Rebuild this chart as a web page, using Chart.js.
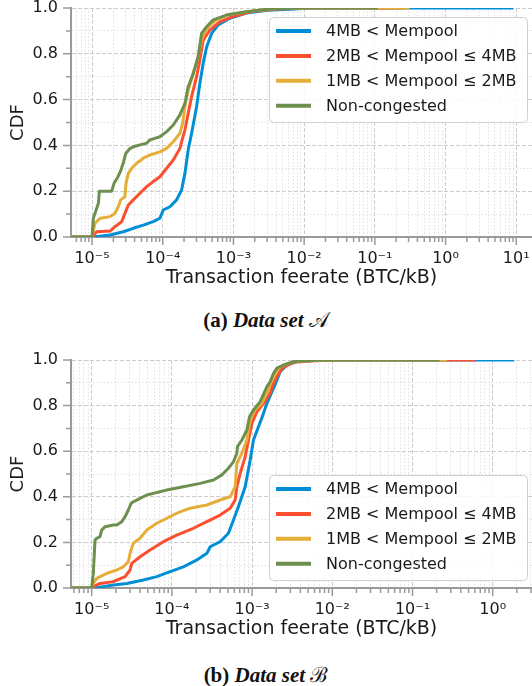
<!DOCTYPE html>
<html><head><meta charset="utf-8">
<script src="https://cdn.jsdelivr.net/npm/chart.js@4.4.0/dist/chart.umd.min.js"></script>
<style>
html,body{margin:0;padding:0;background:#fff;width:532px;height:686px;overflow:hidden;position:relative}
canvas{position:absolute;left:0}
.cap{position:absolute;left:0;width:532px;text-align:center;font-family:"Liberation Serif","DejaVu Serif",serif;font-weight:bold;font-size:21px;color:#111;line-height:26px}
.cap i{font-style:italic}
.cap span{font-weight:normal;font-style:normal}
</style></head><body>
<canvas id="cA" width="532" height="300" style="top:0px;width:532px;height:300px"></canvas>
<div class="cap" style="top:307px">(a) <i>Data set</i> <span>𝒜</span></div>
<canvas id="cB" width="532" height="311" style="top:340px;width:532px;height:311px"></canvas>
<div class="cap" style="top:662px">(b) <i>Data set</i> <span>ℬ</span></div>
<script>
// ---------- data ----------
const seriesNames = ['4MB < Mempool', '2MB < Mempool \u2264 4MB', '1MB < Mempool \u2264 2MB', 'Non-congested'];
const seriesColors = ['#008fd5', '#fc4f30', '#e5ae38', '#6d904f'];
const xTitle = 'Transaction feerate (BTC/kB)';
const yTitle = 'CDF';
const xRangeA = [5.04e-6, 16.7];
const xRangeB = [5.52e-6, 3.09];

// Data set A
const aBlueX = [4e-6, 1.043e-5, 1.8e-5, 2.77e-5, 3.83e-5, 5.31e-5, 7.34e-5, 9.12e-5, 1.017e-4, 1.264e-4, 1.57e-4, 1.85e-4, 2.06e-4, 2.29e-4, 2.56e-4, 3.01e-4, 3.35e-4, 3.73e-4, 4.17e-4, 4.91e-4, 6.08e-4, 8.9e-4, 1.53e-3, 3e-3, 6.26e-3, 1.2e-2, 9.1];
const aBlueY = [0, 0, 0.009, 0.023, 0.038, 0.052, 0.067, 0.082, 0.118, 0.132, 0.162, 0.205, 0.278, 0.38, 0.453, 0.569, 0.671, 0.758, 0.83, 0.889, 0.926, 0.955, 0.978, 0.99, 0.995, 1, 1];
const aRedX = [4e-6, 1.0e-5, 1.165e-5, 1.8e-5, 2.11e-5, 2.63e-5, 2.92e-5, 3.26e-5, 3.83e-5, 4.76e-5, 5.93e-5, 7.34e-5, 9.12e-5, 1.135e-4, 1.41e-4, 1.75e-4, 1.88e-4, 2.06e-4, 2.29e-4, 2.56e-4, 3.01e-4, 3.35e-4, 3.73e-4, 4.64e-4, 6.43e-4, 9.9e-4, 1.8e-3, 4e-3, 1e-2, 0.25];
const aRedY = [0, 0, 0.023, 0.026, 0.045, 0.067, 0.103, 0.14, 0.162, 0.191, 0.22, 0.242, 0.263, 0.30, 0.336, 0.387, 0.424, 0.467, 0.54, 0.613, 0.70, 0.773, 0.86, 0.904, 0.94, 0.963, 0.985, 0.996, 1, 1];
const aYellowX = [4e-6, 1.0e-5, 1.1e-5, 1.3e-5, 1.8e-5, 2.11e-5, 2.35e-5, 2.54e-5, 2.92e-5, 3.02e-5, 3.26e-5, 3.64e-5, 4.28e-5, 5.31e-5, 6.59e-5, 9.12e-5, 1.135e-4, 1.41e-4, 1.75e-4, 1.91e-4, 2.06e-4, 2.29e-4, 2.7e-4, 3.17e-4, 3.54e-4, 3.94e-4, 4.64e-4, 5.77e-4, 8.0e-4, 1.53e-3, 3.27e-3, 1e-2, 0.31];
const aYellowY = [0, 0, 0.06, 0.082, 0.089, 0.103, 0.132, 0.162, 0.176, 0.234, 0.278, 0.30, 0.322, 0.344, 0.358, 0.372, 0.387, 0.416, 0.453, 0.496, 0.57, 0.642, 0.714, 0.788, 0.86, 0.897, 0.926, 0.948, 0.969, 0.984, 0.996, 1, 1];
const aGreenX = [4e-6, 1.0e-5, 1.043e-5, 1.1e-5, 1.23e-5, 1.27e-5, 1.9e-5, 2.05e-5, 2.3e-5, 2.55e-5, 2.8e-5, 3.0e-5, 3.4e-5, 3.83e-5, 5.93e-5, 6.59e-5, 9.12e-5, 1.135e-4, 1.41e-4, 1.75e-4, 2.06e-4, 2.29e-4, 2.7e-4, 3.17e-4, 3.54e-4, 4.17e-4, 5.17e-4, 8.0e-4, 1.53e-3, 3.27e-3, 1e-2, 0.11];
const aGreenY = [0, 0, 0.082, 0.103, 0.147, 0.2, 0.2, 0.235, 0.26, 0.29, 0.33, 0.365, 0.385, 0.394, 0.41, 0.424, 0.438, 0.46, 0.489, 0.533, 0.584, 0.656, 0.714, 0.788, 0.889, 0.918, 0.948, 0.969, 0.984, 0.996, 1, 1];

// Data set B
const bBlueX = [4e-6, 1.1e-5, 1.86e-5, 2.74e-5, 4.41e-5, 6.48e-5, 9.5e-5, 1.39e-4, 2.05e-4, 2.73e-4, 3.0e-4, 4.0e-4, 5.07e-4, 5.86e-4, 6.76e-4, 8.2e-4, 9.47e-4, 1.04e-3, 1.2e-3, 1.32e-3, 1.53e-3, 1.77e-3, 2.04e-3, 2.24e-3, 2.72e-3, 3.6e-3, 6e-3, 1.5e-2, 1.86];
const bBlueY = [0, 0, 0.013, 0.02, 0.035, 0.05, 0.072, 0.093, 0.123, 0.152, 0.181, 0.203, 0.24, 0.298, 0.357, 0.444, 0.561, 0.649, 0.707, 0.745, 0.81, 0.861, 0.912, 0.949, 0.978, 0.993, 0.998, 1, 1];
const bRedX = [4e-6, 1.0e-5, 1.047e-5, 1.27e-5, 1.86e-5, 2.61e-5, 3.01e-5, 3.16e-5, 4.01e-5, 5.34e-5, 7.83e-5, 1.15e-4, 1.85e-4, 2.73e-4, 4.0e-4, 5.33e-4, 6.15e-4, 6.46e-4, 7.1e-4, 8.2e-4, 9.02e-4, 9.94e-4, 1.15e-3, 1.39e-3, 1.68e-3, 1.77e-3, 2.04e-3, 2.36e-3, 3.3e-3, 6e-3, 1.2e-2, 0.61];
const bRedY = [0, 0, 0.006, 0.02, 0.028, 0.05, 0.079, 0.108, 0.137, 0.167, 0.203, 0.232, 0.262, 0.291, 0.32, 0.35, 0.386, 0.444, 0.503, 0.576, 0.649, 0.722, 0.773, 0.81, 0.854, 0.883, 0.927, 0.964, 0.99, 0.997, 1, 1];
const bYellowX = [4e-6, 1.0e-5, 1.047e-5, 1.155e-5, 1.54e-5, 2.05e-5, 2.48e-5, 2.86e-5, 3.01e-5, 3.3e-5, 4.01e-5, 4.86e-5, 6.48e-5, 8.64e-5, 1.15e-4, 1.69e-4, 2.73e-4, 4.0e-4, 5.33e-4, 6.15e-4, 6.46e-4, 7.46e-4, 8.61e-4, 9.47e-4, 1.09e-3, 1.32e-3, 1.6e-3, 1.68e-3, 1.94e-3, 2.24e-3, 3.29e-3, 6e-3, 1.2e-2, 0.27];
const bYellowY = [0, 0, 0.02, 0.042, 0.064, 0.079, 0.093, 0.115, 0.152, 0.196, 0.218, 0.254, 0.284, 0.306, 0.328, 0.35, 0.364, 0.386, 0.40, 0.444, 0.547, 0.591, 0.649, 0.737, 0.781, 0.81, 0.868, 0.898, 0.942, 0.971, 0.993, 0.998, 1, 1];
const bGreenX = [4e-6, 1.0e-5, 1.047e-5, 1.1e-5, 1.155e-5, 1.27e-5, 1.33e-5, 1.47e-5, 1.86e-5, 2.05e-5, 2.37e-5, 2.61e-5, 2.86e-5, 3.1e-5, 3.3e-5, 4.01e-5, 4.86e-5, 5.87e-5, 8.64e-5, 1.39e-4, 2.25e-4, 3.3e-4, 4.2e-4, 5.07e-4, 5.86e-4, 6.46e-4, 6.57e-4, 7.46e-4, 8.61e-4, 9.29e-4, 1.04e-3, 1.26e-3, 1.53e-3, 1.68e-3, 1.85e-3, 2.04e-3, 2.47e-3, 3.29e-3, 5.3e-3, 1e-2, 0.217];
const bGreenY = [0, 0, 0.064, 0.21, 0.218, 0.225, 0.254, 0.269, 0.276, 0.276, 0.291, 0.313, 0.342, 0.371, 0.378, 0.393, 0.408, 0.415, 0.43, 0.444, 0.459, 0.474, 0.496, 0.525, 0.554, 0.591, 0.62, 0.649, 0.693, 0.751, 0.781, 0.817, 0.883, 0.905, 0.942, 0.964, 0.978, 0.993, 0.998, 1, 1];

// ---------- helpers ----------
const FONT = 'DejaVu Sans';
const SUP = {'-':'\u207B','0':'\u2070','1':'\u00B9','2':'\u00B2','3':'\u00B3','4':'\u2074','5':'\u2075','6':'\u2076','7':'\u2077','8':'\u2078','9':'\u2079'};
function powLabel(e) { return '10' + String(e).split('').map(c => SUP[c]).join(''); }
function isPow10(v) { const l = Math.log10(v); return Math.abs(l - Math.round(l)) < 1e-9; }
function buildXTicks(min, max) {
  const t = [];
  for (let e = -7; e <= 2; e++) for (let m = 1; m <= 9; m++) {
    const v = Number((m * Math.pow(10, e)).toPrecision(12));
    if (v >= min && v <= max) t.push({value: v, major: m === 1});
  }
  return t;
}
function buildYTicks() {
  const t = [];
  for (let i = 0; i <= 10; i++) t.push({value: i / 10, major: i % 2 === 0});
  return t;
}
function pts(xs, ys) { return xs.map((x, i) => ({x: x, y: ys[i]})); }

const tickMarks = {
  id: 'tickMarks',
  afterDraw(chart) {
    const ctx = chart.ctx, a = chart.chartArea;
    ctx.save();
    ctx.strokeStyle = '#9a9a9a';
    ctx.lineWidth = 1.5;
    const xs = chart.scales.x, ys = chart.scales.y;
    ctx.beginPath();
    xs.ticks.forEach(t => {
      const p = xs.getPixelForValue(t.value);
      ctx.moveTo(p, a.bottom + 1); ctx.lineTo(p, a.bottom + 1 + (t.major ? 7 : 4));
    });
    ys.ticks.forEach(t => {
      const p = ys.getPixelForValue(t.value);
      ctx.moveTo(a.left - 1, p); ctx.lineTo(a.left - 1 - (t.major ? 7 : 4), p);
    });
    ctx.stroke();
    ctx.restore();
  }
};

function boxLegend(anchor) {
  return {
    id: 'boxLegend',
    afterDatasetsDraw(chart) {
      const ctx = chart.ctx, a = chart.chartArea;
      const w = 258, h = 105;
      const x0 = a.right - 5 - w;
      const y0 = anchor === 'top' ? a.top + 9 : a.bottom - 8 - h;
      ctx.save();
      ctx.beginPath();
      if (ctx.roundRect) ctx.roundRect(x0 + 0.5, y0 + 0.5, w, h, 4); else ctx.rect(x0 + 0.5, y0 + 0.5, w, h);
      ctx.fillStyle = 'rgba(255,255,255,0.85)';
      ctx.fill();
      ctx.strokeStyle = '#d0d0d0';
      ctx.lineWidth = 1;
      ctx.stroke();
      ctx.font = '16px "' + FONT + '"';
      ctx.textBaseline = 'middle';
      ctx.textAlign = 'left';
      seriesNames.forEach((name, i) => {
        const cy = y0 + 14 + i * 24.9;
        ctx.strokeStyle = seriesColors[i];
        ctx.lineWidth = 4;
        ctx.beginPath();
        ctx.moveTo(x0 + 7, cy); ctx.lineTo(x0 + 42, cy);
        ctx.stroke();
        ctx.fillStyle = '#1a1a1a';
        ctx.fillText(name, x0 + 57, cy + 1);
      });
      ctx.restore();
    }
  };
}

function makeChart(id, range, data, anchor, padTop) {
  const datasets = data.map((d, i) => ({
    label: seriesNames[i],
    data: pts(d[0], d[1]),
    borderColor: seriesColors[i],
    backgroundColor: seriesColors[i],
    borderWidth: 3,
    pointRadius: 0,
    fill: false,
    tension: 0,
    borderJoinStyle: 'round',
    order: 3 - i
  }));
  return new Chart(document.getElementById(id), {
    type: 'line',
    data: {datasets: datasets},
    options: {
      responsive: false,
      animation: false,
      devicePixelRatio: 1,
      events: [],
      parsing: false,
      layout: {padding: {top: padTop, left: 0, right: 0, bottom: 0}},
      plugins: {legend: {display: false}, tooltip: {enabled: false}},
      scales: {
        x: {
          type: 'logarithmic', min: range[0], max: range[1], position: 'bottom',
          afterBuildTicks: s => { s.ticks = buildXTicks(range[0], range[1]); },
          afterFit: s => { s.height = 63; s.paddingLeft = 0; s.paddingRight = 0; },
          ticks: {
            autoSkip: false, maxRotation: 0, minRotation: 0, padding: 4,
            font: {family: FONT, size: 16}, color: '#1a1a1a',
            callback: v => isPow10(v) ? powLabel(Math.round(Math.log10(v))) : ''
          },
          grid: {
            color: c => (c.tick && c.tick.major) ? '#cdcdcd' : '#e0e0e0',
            lineWidth: 1, tickLength: 8, tickColor: 'rgba(0,0,0,0)'
          },
          border: {display: true, color: '#9a9a9a', width: 2,
            dash: c => (c.tick && c.tick.major) ? [4, 2] : [1.5, 2]},
          title: {display: true, text: xTitle, font: {family: FONT, size: 19}, color: '#1a1a1a',
            padding: {top: 0, bottom: 11}}
        },
        y: {
          type: 'linear', min: 0, max: 1, position: 'left',
          afterBuildTicks: s => { s.ticks = buildYTicks(); },
          afterFit: s => { s.width = 71; s.paddingTop = 0; s.paddingBottom = 0; },
          ticks: {
            autoSkip: false, padding: 5,
            font: {family: FONT, size: 16}, color: '#1a1a1a',
            callback: v => (Math.round(v * 10) % 2 === 0) ? v.toFixed(1) : ''
          },
          grid: {
            color: c => (c.tick && c.tick.major) ? '#cdcdcd' : '#e0e0e0',
            lineWidth: 1, tickLength: 8, tickColor: 'rgba(0,0,0,0)'
          },
          border: {display: true, color: '#9a9a9a', width: 2,
            dash: c => (c.tick && c.tick.major) ? [4, 2] : [1.5, 2]},
          title: {display: true, text: yTitle, font: {family: FONT, size: 18}, color: '#1a1a1a',
            padding: {top: 8, bottom: 0}}
        }
      }
    },
    plugins: [tickMarks, boxLegend(anchor)]
  });
}

makeChart('cA', xRangeA, [[aBlueX, aBlueY], [aRedX, aRedY], [aYellowX, aYellowY], [aGreenX, aGreenY]], 'top', 8);
makeChart('cB', xRangeB, [[bBlueX, bBlueY], [bRedX, bRedY], [bYellowX, bYellowY], [bGreenX, bGreenY]], 'bottom', 20);
</script>
</body></html>
